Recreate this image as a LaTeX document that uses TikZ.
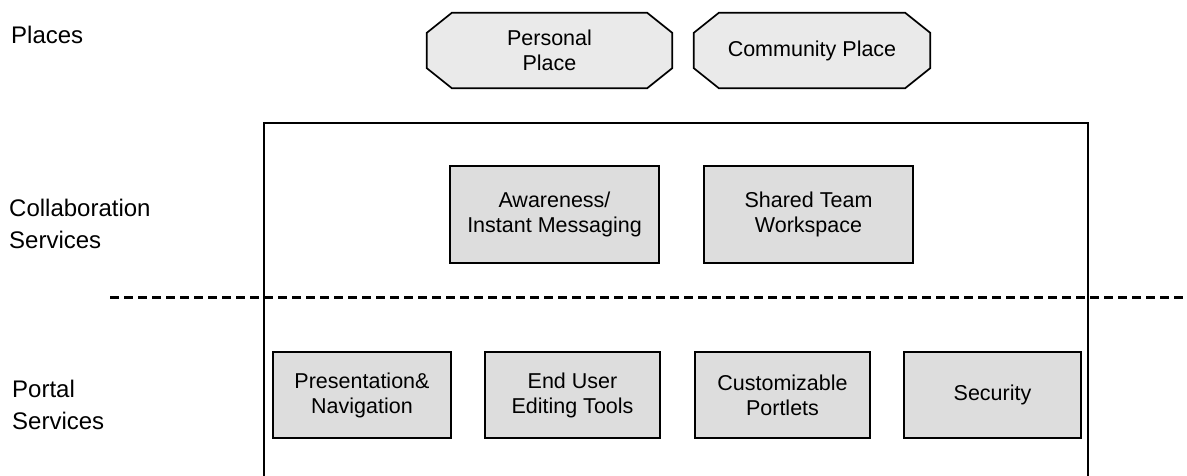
\documentclass[tikz,border=0pt]{standalone}
\usepackage{fontspec}
\setmainfont{Liberation Sans}
\usetikzlibrary{calc,backgrounds}
\definecolor{boxgray}{HTML}{DDDDDD}
\definecolor{octgray}{HTML}{EAEAEA}
\begin{document}
\begin{tikzpicture}[x=1pt,y=-1pt,
  boxtext/.style={font=\fontsize{21.5}{25}\selectfont, align=center, inner sep=0pt},
  svcbox/.style={boxtext, draw=black, line width=1.7pt, fill=boxgray},
  placenode/.style={boxtext},
  octpath/.style={draw=black, line width=1.7pt, fill=octgray},
  sidelabel/.style={font=\fontsize{24}{32}\selectfont, inner sep=0pt, anchor=base west},
  frame/.style={draw=black, line width=1.7pt, inner sep=0pt},
  layerline/.style={line width=3pt, dash pattern=on 9pt off 5pt}
]
\useasboundingbox (0,0) rectangle (1187,476);
\clip (0,0) rectangle (1187,476);

% side labels
\node[sidelabel] (lplaces) at (11,44) {Places};
\node[sidelabel] (lcollab) at (9,217) {\vtop{\hbox{Collaboration}\hbox{Services}}};
\node[sidelabel] (lportal) at (12,397) {\vtop{\hbox{Portal}\hbox{Services}}};

% outer frame (runs past the bottom edge)
\node[frame, minimum width=824pt, minimum height=377pt] (frame) at (676,311.5) {};

% places (octagons)
\node[placenode, minimum width=245pt, minimum height=75pt] (personal) at (549.5,50.5) {Personal\\Place};
\node[placenode, minimum width=236pt, minimum height=75pt] (community) at (812,50.5) {Community Place};
\begin{scope}[on background layer]
  \foreach \n in {personal,community}{
    \draw[octpath]
      ($(\n.north west)+(25,0)$) -- ($(\n.north east)+(-25,0)$) --
      ($(\n.north east)+(0,20)$) -- ($(\n.south east)+(0,-20)$) --
      ($(\n.south east)+(-25,0)$) -- ($(\n.south west)+(25,0)$) --
      ($(\n.south west)+(0,-20)$) -- ($(\n.north west)+(0,20)$) -- cycle;
  }
\end{scope}

% collaboration services
\node[svcbox, minimum width=209pt, minimum height=97pt] (aware) at (554.5,214.5) {Awareness/\\Instant Messaging};
\node[svcbox, minimum width=209pt, minimum height=97pt] (shared) at (808.5,214.5) {Shared Team\\Workspace};

% dashed separator
\coordinate (dl) at (110,297);
\coordinate (dr) at (1190,297);
\draw[layerline] (dl) -- (dr);

% portal services
\node[svcbox, minimum width=178pt, minimum height=86pt] (pres) at (362,395) {Presentation\&\\Navigation};
\node[svcbox, minimum width=175pt, minimum height=86pt] (edit) at (572.5,395) {End User\\Editing Tools};
\node[svcbox, minimum width=175pt, minimum height=86pt] (custom) at (782.5,395) {Customizable\\Portlets};
\node[svcbox, minimum width=177pt, minimum height=86pt] (sec) at (992.5,395) {Security};
\end{tikzpicture}
\end{document}
